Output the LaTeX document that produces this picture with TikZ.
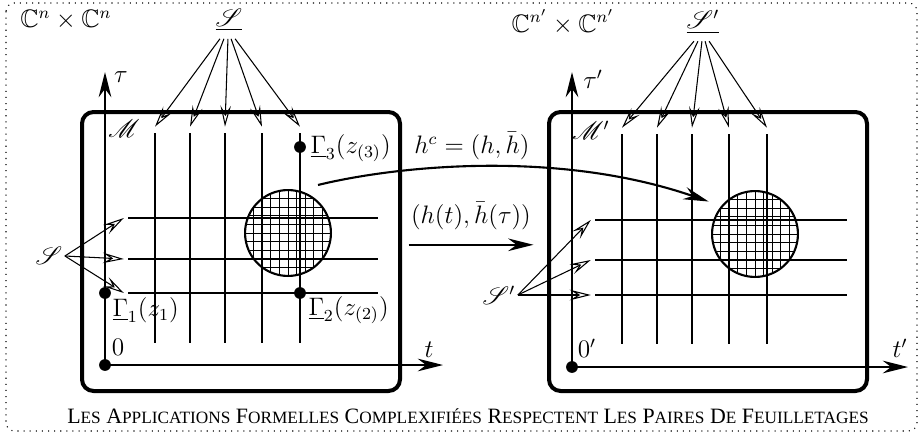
\documentclass[tikz,border=0pt]{standalone}
\usepackage{fontspec}
\usepackage{amsmath,amssymb}
\usepackage{mathrsfs}
\usetikzlibrary{arrows.meta}
\newfontfamily\capfont{Liberation Serif}
\newcommand\smallcapsz{\fontsize{8.2}{9}\selectfont}

\begin{document}
\begin{tikzpicture}[x=0.475pt, y=-0.475pt,
    every node/.style={font=\fontsize{12}{14.4}\selectfont},
    box/.style={line width=1.9pt, rounded corners=5.5pt},
    axis/.style={line width=1pt, -{Stealth[length=12pt, width=6pt, inset=4pt]}},
    leaf/.style={line width=1pt},
    pointer/.style={line width=0.5pt, -{Stealth[open, length=10pt, width=5pt, inset=4pt]}},
    dot/.style={circle, fill, inner sep=0pt, minimum size=5.6pt},
    disc/.style={circle, draw, line width=1pt, inner sep=0pt, minimum size=40.8pt, outer sep=6.5pt,
      path picture={
        \foreach \k in {-5,...,5} {
          \draw[line width=0.4pt] ([xshift=\k*4.1pt]path picture bounding box.north) -- ([xshift=\k*4.1pt]path picture bounding box.south);
          \draw[line width=0.4pt] ([yshift=\k*4.1pt]path picture bounding box.west) -- ([yshift=\k*4.1pt]path picture bounding box.east);
        }}}]
    \useasboundingbox (0,0) rectangle (921,436);
    \draw[line width=0.5pt, dash pattern=on 0.5pt off 2.4pt, rounded corners=4pt] (6,3) rectangle (917,431);

    % left foliated space
    \node (space) at (66,20) {$\mathbb{C}^n\times\mathbb{C}^n$};
    \draw[box] (82,112) rectangle (400,391);
    \foreach \x [count=\i] in {155,190,225,262,300} {
        \coordinate (v\i) at (\x,133);
        \draw[leaf] (v\i) -- (\x,343);
    }
    \foreach \y [count=\i] in {218,259,293} {
        \coordinate (h\i) at (128,\y);
        \draw[leaf] (h\i) -- (378,\y);
    }
    \node[disc] (disc) at (288,233) {};
    \node[dot] (orig) at (105,365) {};
    \coordinate (tauend) at (105,72);
    \coordinate (tend) at (443,365);
    \draw[axis] (orig.center) -- (tauend);
    \draw[axis] (orig.center) -- (tend);
    \node (tau) at (121,77) {$\tau$};
    \node (t) at (429,350) {$t$};
    \node (zero) at (118,347) {$0$};
    \node (man) at (124,129) {$\mathscr{M}$};
    \node[dot] (g1) at (105,293) {};
    \node[dot] (g2) at (300,293) {};
    \node[dot] (g3) at (300,147) {};
    \node[anchor=west, inner sep=1pt] (g1l) at (110,310) {$\underline{\Gamma}_1(z_1)$};
    \node[anchor=west, inner sep=1pt] (g2l) at (306,310) {$\underline{\Gamma}_2(z_{(2)})$};
    \node[anchor=west, inner sep=1pt] (g3l) at (308,148) {$\underline{\Gamma}_3(z_{(3)})$};
    \node (fol) at (229,20) {$\underline{\mathscr{S}}$};
    \foreach \s [count=\i] in {-4.3,-2.4,-0.5,1,2.9}
        \draw[pointer] ([xshift=\s pt]fol.south) -- ([yshift=3pt]v\i);
    \node[inner sep=1pt] (folL) at (49,256) {$\mathscr{S}$};
    \foreach \i in {1,2,3}
        \draw[pointer] (folL.east) -- ([xshift=-2pt]h\i);

    % right foliated space
    \node (spaceR) at (563,22) {$\mathbb{C}^{n'}\times\mathbb{C}^{n'}$};
    \draw[box] (549,112) rectangle (867,391);
    \foreach \x [count=\i] in {622,657,692,729,767} {
        \coordinate (vR\i) at (\x,134);
        \draw[leaf] (vR\i) -- (\x,344);
    }
    \foreach \y [count=\i] in {220,260,295} {
        \coordinate (hR\i) at (595,\y);
        \draw[leaf] (hR\i) -- (847,\y);
    }
    \node[disc] (discR) at (755,234) {};
    \node[dot] (origR) at (572,367) {};
    \coordinate (tauendR) at (572,72);
    \coordinate (tendR) at (908,367);
    \draw[axis] (origR.center) -- (tauendR);
    \draw[axis] (origR.center) -- (tendR);
    \node (tauR) at (593,79) {$\tau'$};
    \node (tR) at (900,348) {$t'$};
    \node (zeroR) at (587,348) {$0'$};
    \node (manR) at (591,130) {$\mathscr{M}'$};
    \node (folR) at (703,22) {$\underline{\mathscr{S}'}$};
    \foreach \s [count=\i] in {-4.3,-2.4,-0.5,1,2.9}
        \draw[pointer] ([xshift=\s pt]folR.south) -- ([yshift=3pt]vR\i);
    \node[inner sep=1pt] (folLR) at (499,295) {$\mathscr{S}'$};
    \foreach \i in {1,2,3}
        \draw[pointer] (folLR.east) -- ([xshift=-2pt]hR\i);

    % the maps
    \node[inner sep=1pt] (hc) at (472,146) {$h^c=(h,\bar{h})$};
    \draw[axis] (disc.58) .. controls (400,165) and (560,150) .. (discR.145);
    \node[inner sep=1pt] (hpair) at (471,216) {$(h(t),\bar{h}(\tau))$};
    \draw[axis] ([yshift=-6pt]hpair.south west) -- ([yshift=-6pt]hpair.south east);

    \node[anchor=base, font=\capfont\fontsize{10.4}{12}\selectfont] (cap) at (468,423)
        {L{\smallcapsz ES} A{\smallcapsz PPLICATIONS} F{\smallcapsz ORMELLES} C{\smallcapsz OMPLEXIFIÉES} R{\smallcapsz ESPECTENT} L{\smallcapsz ES} P{\smallcapsz AIRES} D{\smallcapsz E} F{\smallcapsz EUILLETAGES}};
\end{tikzpicture}
\end{document}
